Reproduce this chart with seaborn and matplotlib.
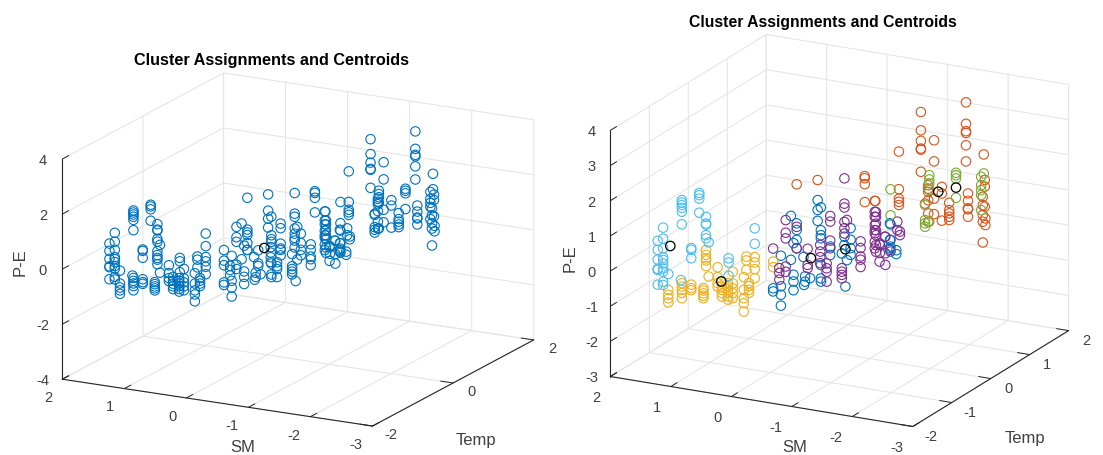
# Cluster assignments and centroids, two 3D views

# %% import modules
import matplotlib
matplotlib.use('Agg')
import matplotlib.pyplot as plt
import numpy as np
import pandas as pd
import seaborn as sns

# %% data, one (sm, temp) column per entry with its P-E values
light_sm = [1.81, 1.74, 1.68, 1.52, 1.53, 1.41, 1.31, 1.23, 1.20, 0.96, 0.65]
light_temp = [-1.08, -1.05, -1.01, -0.91, -0.92, -0.84, -0.79, -0.74, -0.72, -0.58, -0.39]
light_pe = [[0.285, 0.03, -0.25, -0.51, -0.54, -0.96],
            [0.66, 0.35, 0.07, -0.19, -0.26, -0.36, -0.50, -0.59, -0.88, -0.97],
            [-0.67],
            [1.41, 1.34, 1.27, 1.19, 1.08, 0.72],
            [-0.86],
            [0.03, -0.02, -0.26],
            [1.59, 1.53, 1.43, 1.03],
            [0.90, 0.71, 0.68, 0.38, 0.29],
            [0.17],
            [-0.31, -0.43, -0.81],
            [0.50, 0.06]]

yellow_sm = [1.68, 1.52, 1.41, 1.26, 1.23, 1.20, 1.09, 1.04, 0.97, 0.91, 0.78, 0.72, 0.75, 0.65, 0.43]
yellow_temp = [-1.01, -0.91, -0.84, -0.76, -0.74, -0.72, -0.66, -0.63, -0.58, -0.55, -0.47, -0.43, -0.45, -0.39, -0.26]
yellow_pe = [[-1.12, -1.26, -1.36, -1.48],
             [-0.95, -1.05, -1.14, -1.23, -1.38],
             [-1.01, -1.11, -1.17],
             [-1.12, -1.19, -1.27, -1.34, -1.41],
             [-0.04, -0.18, -0.28, -0.34, -0.50],
             [-0.80],
             [-0.55, -0.83, -1.00, -1.10],
             [-0.96, -1.10, -1.20, -1.29, -1.39],
             [-1.02, -1.11, -1.21, -1.30, -1.40, -1.49],
             [-0.70, -1.03, -1.17, -1.31, -1.45],
             [-0.87, -1.23, -1.47, -1.61, -1.85],
             [-1.05, -1.14, -1.24, -1.33],
             [-0.29, -0.40, -0.67],
             [-0.32, -0.47, -0.66, -0.92],
             [-0.47, -0.63]]

blue_sm = [0.22, -0.10, -0.14, 0.15, 0.19, -0.25, -0.49, -0.45, -0.42, -0.39, -0.43, 0.05, -0.01, 0.06,
           0.43, 0.34, 0.07, -0.96, -0.97, -1.04]
blue_temp = [-0.13, 0.06, 0.08, -0.09, -0.11, 0.15, 0.30, 0.27, 0.25, 0.23, 0.26, -0.03, 0.005, -0.04,
             -0.26, -0.20, -0.04, 0.58, 0.58, 0.62]
blue_pe = [[0.80, -0.45],
           [1.21, 0.93, 0.62],
           [1.00, 0.35, 0.21, 0.12, -0.64, -1.02, -1.11],
           [0.58, 0.39, 0.11, -0.13],
           [0.02, -0.88, -1.07, -1.32],
           [-0.13, -0.37],
           [0.36, 0.03, -0.21, -0.40],
           [-0.54],
           [0.13, -0.11],
           [-0.34],
           [-1.29],
           [-0.94, -1.09],
           [-1.00],
           [-1.18],
           [-1.23, -1.32],
           [-0.32, -1.19, -1.43, -1.74],
           [-0.39],
           [0.44, -0.03, -0.27],
           [0.41, -0.03, -0.22, -0.36],
           [-0.33, -0.44]]

purple_sm = [-0.42, 0.28, 0.15, 0.43, 0.02, -0.25, -0.13, -0.21, 0.36, -0.45, -0.39, -0.61, -0.78, -0.84, -0.91,
             -0.96, -0.80, -0.84, -0.90, -1.05, -1.08]
purple_temp = [0.25, -0.17, -0.09, -0.26, -0.01, 0.15, 0.08, 0.12, -0.21, 0.27, 0.23, 0.37, 0.47, 0.50, 0.54,
               0.58, 0.47, 0.51, 0.54, 0.63, 0.65]
purple_pe = [[1.79, 1.07, 0.96, 0.55, 0.37, 0.22],
             [0.69, 0.33, 0.17, -0.63, -0.78],
             [0.48, -0.13],
             [-0.10],
             [-0.16, -0.62, -0.71],
             [0.74, 0.58, 0.04, -0.18],
             [-0.07, -0.26, -0.42, -0.59],
             [-0.60, -0.74, -0.84, -1.12],
             [-0.67, -0.81, -1.00],
             [0.60],
             [-0.76, -0.86, -0.95, -1.05],
             [-0.03, -0.22, -0.46, -0.55, -0.76],
             [0.79, 0.65, 0.42, 0.27, 0.18, -0.06, -0.25],
             [-0.11, -0.63],
             [0.07, -0.40, -0.73],
             [-0.32],
             [0.79, 0.65, 0.46, 0.27, 0.13, -0.15, -0.34],
             [-0.16, -0.39],
             [0.07],
             [0.48, 0.24],
             [0.19, 0.09]]

orange_sm = [0.15, -0.10, -0.66, -0.79, -1.87, -1.33, -1.49, -1.07, -2.08, -1.58, -0.78, -1.42, -1.38, -1.67,
             -1.89, -2.09, -2.07, -2.10]
orange_temp = [-0.09, 0.06, 0.40, 0.47, 1.12, 0.80, 0.89, 0.64, 1.25, 0.95, 0.47, 0.85, 0.83, 1.00,
               1.14, 1.26, 1.24, 1.26]
orange_pe = [[1.69],
             [1.78],
             [1.82, 1.76, 1.59, 1.08],
             [1.10],
             [3.77, 3.16, 2.95, 2.90, 2.55, 2.09],
             [3.56, 3.04, 2.74, 2.52, 2.49, 1.86],
             [2.74, 2.14, 1.08, 0.64],
             [2.47, 1.40, 1.13, 1.04, 0.95],
             [2.26],
             [1.40, 1.21, 0.44],
             [1.10],
             [1.47, 1.37, 1.28, 1.04, 0.67, 0.43],
             [0.95],
             [0.94, 0.73, 0.64, 0.54, 0.45],
             [1.17, 0.96, 0.75, 0.72, 0.51],
             [1.53, 1.34, 0.77],
             [1.06, 0.82, 0.54, 0.35, -0.24],
             [0.44, 0.25]]

green_sm = [-1.43, -0.97, -1.75, -1.38, -2.08, -2.05]
green_temp = [0.86, 0.58, 1.05, 0.83, 1.25, 1.23]
green_pe = [[1.75, 1.63, 1.52, 1.33, 0.43],
            [1.41, 0.67],
            [1.78, 1.71, 1.62, 1.07],
            [0.91, 0.48, 0.39, 0.29],
            [1.72],
            [1.63, 1.39, 1.25, 1.11, 0.68]]

centroid_sm = [1.66, 1.05, -0.02, -0.43, -1.54, -1.75]
centroid_temp = [-0.99, -0.63, 0.01, 0.26, 0.92, 1.05]
centroid_pe = [0.12, -0.96, -0.43, -0.23, 1.27, 1.36]

# single cluster centroid of the left panel
mean_sm = [0.03]
mean_temp = [-0.02]
mean_pe = [-0.11]

title = 'Cluster Assignments and Centroids'

# the left panel reads a little narrower than the right one against its ticks
left_spread = 0.965
left_pe_spread = 1.04

# %% long table of all points
def stacks_to_frame(name, sm, temp, pe):
    df = pd.DataFrame({'SM': sm, 'Temp': temp, 'PE': pe}).explode('PE')
    df['PE'] = df['PE'].astype(float)
    df['cluster'] = name
    return df


points = pd.concat([
    stacks_to_frame('light', light_sm, light_temp, light_pe),
    stacks_to_frame('yellow', yellow_sm, yellow_temp, yellow_pe),
    stacks_to_frame('blue', blue_sm, blue_temp, blue_pe),
    stacks_to_frame('purple', purple_sm, purple_temp, purple_pe),
    stacks_to_frame('orange', orange_sm, orange_temp, orange_pe),
    stacks_to_frame('green', green_sm, green_temp, green_pe),
])

left_points = points.assign(SM=2 - left_spread * (2 - points['SM']),
                            Temp=left_spread * (points['Temp'] + 2) - 2,
                            PE=left_pe_spread * points['PE'])

palette = {'light': '#4DBEEE', 'yellow': '#EDB120', 'blue': '#0072BD',
           'purple': '#7E2F8E', 'orange': '#D95319', 'green': '#77AC30'}

# %% style
sns.set_theme(style='white')
plt.rcParams['font.family'] = ['Liberation Sans', 'DejaVu Sans']
plt.rcParams['axes.unicode_minus'] = False

W, H = 1103, 455
fig = plt.figure(figsize=(W / 100, H / 100), dpi=100)


def make_axes(cx, cy, elev, azim, box, zoom, temp_ticks, pe_lim, pe_ticks):
    # square axes centred so the middle of the box lands on (cx, cy) in pixels
    left = cx - 0.5135 * H
    bottom = (H - cy) - 0.5135 * H
    ax = fig.add_axes([left / W, bottom / H, 1, 1], projection='3d', proj_type='ortho')
    ax.set_position([left / W, bottom / H, H / W, 1])
    ax.computed_zorder = False
    ax.view_init(elev=elev, azim=azim)
    ax.set_box_aspect(box, zoom=zoom)
    ax.set_xlim(2, -3, view_margin=0)
    ax.set_ylim(-2, 2, view_margin=0)
    ax.set_zlim(pe_lim[0], pe_lim[1], view_margin=0)
    ax.set_xticks([2, 1, 0, -1, -2, -3])
    ax.set_yticks(temp_ticks)
    ax.set_zticks(pe_ticks)
    ax.tick_params(labelsize=10.5, color='#262626', labelcolor='#404040')
    ax.tick_params(axis='x', pad=2.5)
    ax.tick_params(axis='y', pad=2)
    ax.tick_params(axis='z', pad=-1)
    ax.patch.set_alpha(0)
    for axis in (ax.xaxis, ax.yaxis, ax.zaxis):
        axis.set_pane_color((1, 1, 1, 0))
        axis.pane.set_edgecolor((1, 1, 1, 0))
        axis.line.set_color('#262626')
        axis.line.set_linewidth(0.8)
        axis._axinfo['grid'].update(color='#e6e6e6', linewidth=0.8)
        axis._axinfo['tick'].update(inward_factor=0, outward_factor=0.5)
        axis._axinfo['tick']['linewidth'] = {True: 0.7, False: 0.7}
    ax.zaxis.set_ticks_position('lower')
    return ax


def align_tick_labels(ax):
    # the default anchors put the labels too low and too far right
    for tick in ax.xaxis.get_major_ticks():
        tick.label1.set_verticalalignment('center')
        tick.label1.set_horizontalalignment('right')
    for tick in ax.yaxis.get_major_ticks():
        tick.label1.set_verticalalignment('bottom')
    for tick in ax.zaxis.get_major_ticks():
        tick.label1.set_verticalalignment('center')


def draw_points(ax, df, color, z):
    ax.scatter(df['SM'], df['Temp'], df['PE'], s=46, facecolors='none',
               edgecolors=color, linewidths=0.8, depthshade=False, zorder=z)


# %% left panel, all points in one colour
ax1 = make_axes(298, 249.5, 16.5, -62, (355, 347, 232), 1.157, [-2, 0, 2], (-4, 4), [-4, -2, 0, 2, 4])
draw_points(ax1, left_points, palette['blue'], 2)
ax1.scatter(mean_sm, mean_temp, mean_pe, s=46, facecolors='none', edgecolors='black',
            linewidths=0.9, depthshade=False, zorder=3)
align_tick_labels(ax1)

# %% right panel, coloured by cluster
ax2 = make_axes(839.5, 230.5, 18.6, -62.6, (341, 339, 260), 1.165, [-2, -1, 0, 1, 2], (-3, 4),
                [-3, -2, -1, 0, 1, 2, 3, 4])
for i, name in enumerate(['blue', 'orange', 'yellow', 'purple', 'green', 'light']):
    draw_points(ax2, points[points['cluster'] == name], palette[name], 2 + i)
ax2.scatter(centroid_sm, centroid_temp, centroid_pe, s=46, facecolors='none', edgecolors='black',
            linewidths=0.9, depthshade=False, zorder=9)
align_tick_labels(ax2)

# %% titles and axis labels
label_color = '#404040'
fig.text(272 / W, 1 - 60 / H, title, ha='center', va='center', fontsize=11.7, fontweight='bold', color='black')
fig.text(823 / W, 1 - 22 / H, title, ha='center', va='center', fontsize=11.35, fontweight='bold', color='black')
fig.text(243 / W, 1 - 448 / H, 'SM', ha='center', va='center', fontsize=12, color=label_color)
fig.text(795 / W, 1 - 448 / H, 'SM', ha='center', va='center', fontsize=12, color=label_color)
fig.text(476 / W, 1 - 441 / H, 'Temp', ha='center', va='center', fontsize=12, color=label_color)
fig.text(1025 / W, 1 - 438 / H, 'Temp', ha='center', va='center', fontsize=12, color=label_color)
fig.text(20 / W, 1 - 262 / H, 'P-E', ha='center', va='center', rotation=90, fontsize=12, color=label_color)
fig.text(570 / W, 1 - 258 / H, 'P-E', ha='center', va='center', rotation=90, fontsize=12, color=label_color)

fig.savefig('out.png', dpi=100)
